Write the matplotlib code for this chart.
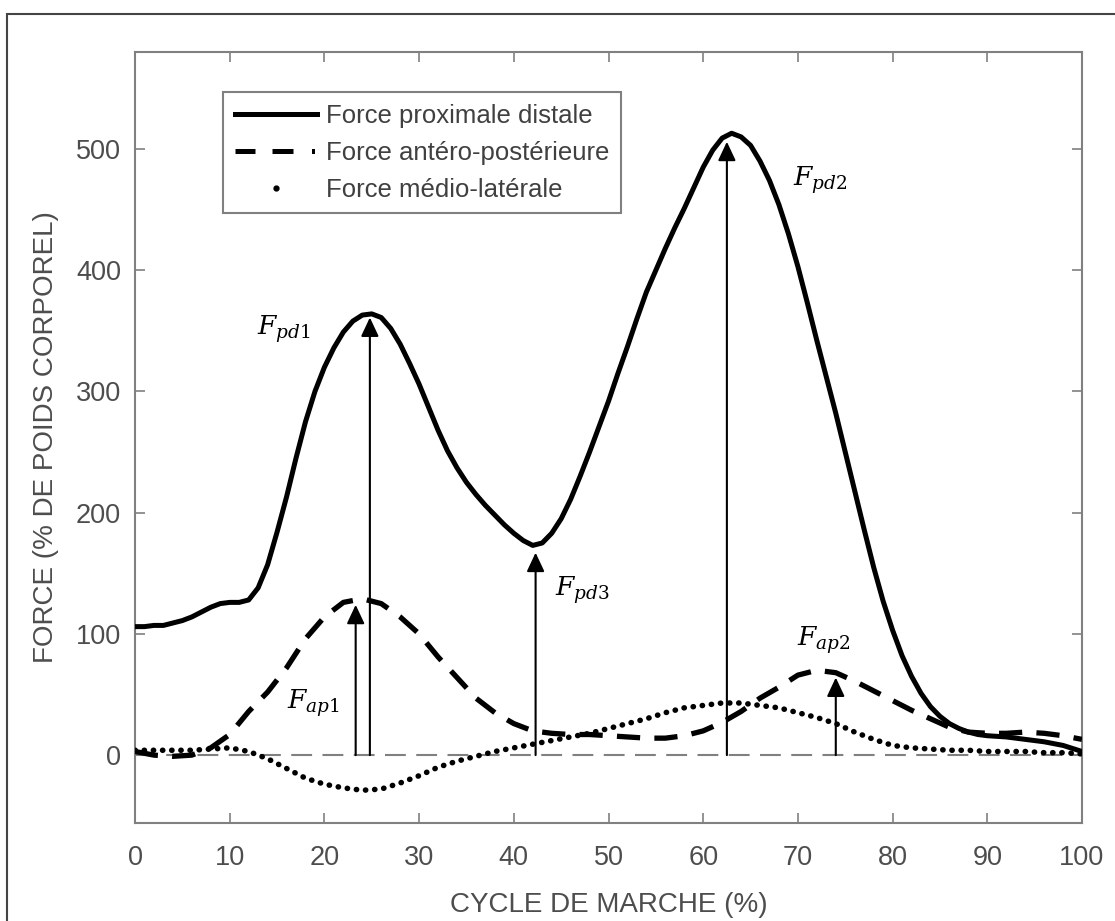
import numpy as np
import matplotlib
matplotlib.use('Agg')
import matplotlib.pyplot as plt
from matplotlib.lines import Line2D
from matplotlib.patches import Rectangle

# Data (gait cycle %, force in % body weight)
cycle_pd = list(range(0, 91)) + [92, 94, 96, 98, 100]
f_pd = [106, 106, 107, 107, 109, 111, 114, 118, 122, 125,
        126, 126, 128, 138, 157, 184, 213, 245, 275, 300,
        320, 336, 349, 358, 363, 364, 361, 352, 339, 323,
        306, 287, 268, 251, 237, 225, 215, 206, 198, 190,
        183, 177, 173, 175, 183, 195, 211, 230, 250, 271,
        292, 315, 337, 360, 382, 400, 418, 435, 451, 468,
        485, 499, 509, 513, 510, 503, 490, 474, 454, 430,
        403, 373, 342, 312, 282, 250, 218, 186, 155, 127,
        103, 82, 65, 51, 40, 32, 26, 22, 19, 17,
        16, 15, 13, 11, 8, 3]

cycle = [0, 2, 4, 6, 8, 10, 12, 14, 16, 18, 20, 22, 24, 26, 28, 30, 32, 34, 36, 38,
         40, 42, 44, 46, 48, 50, 52, 54, 56, 58, 60, 62, 64, 66, 68, 70, 72, 74, 76, 78,
         80, 82, 84, 86, 88, 90, 92, 94, 96, 98, 100]
f_ap = [3, 0, -1, 0, 6, 17, 36, 52, 72, 96, 114, 126, 129, 125, 114, 100, 81, 64, 47, 35,
        26, 20, 18, 17, 17, 16, 15, 14, 14, 16, 20, 27, 36, 47, 56, 66, 70, 68, 61, 53,
        45, 37, 30, 23, 19, 18, 18, 19, 18, 16, 13]
f_ml = [4, 4, 4, 4, 5, 6, 3, -3, -11, -19, -24, -27, -29, -28, -23, -17, -10, -5, -1, 3,
        6, 9, 12, 15, 18, 22, 26, 30, 35, 39, 41, 43, 43, 41, 39, 35, 31, 26, 19, 13,
        8, 6, 5, 4, 4, 3, 3, 3, 2, 2, 1]

labels = ['Force proximale distale', 'Force antéro-postérieure', 'Force médio-latérale']

# arrows: x position, arrow tip value
arrow_x = [23.3, 24.8, 42.3, 62.5, 74.0]
arrow_top = [124, 361, 167, 506, 64]

# annotation texts and anchor (left, centre) in data coordinates
ann_text = [r'$F_{pd1}$', r'$F_{pd2}$', r'$F_{pd3}$', r'$F_{ap1}$', r'$F_{ap2}$']
ann_x = [12.9, 69.5, 44.3, 16.0, 69.9]
ann_y = [351, 474, 136, 43, 95]

plt.rcParams['font.family'] = ['Liberation Sans', 'DejaVu Sans']
plt.rcParams['mathtext.fontset'] = 'dejavuserif'

fig = plt.figure(figsize=(11.15, 9.21), dpi=100)
ax = fig.add_axes([0.1211, 0.1064, 0.8493, 0.8371])

# outer frame of the figure (only top and left edges visible)
fig.patches.append(Rectangle((7 / 1115, -0.1), 1.2, 1.1 - 14 / 921,
                             transform=fig.transFigure, fill=False,
                             edgecolor='#444444', linewidth=1.5))

ax.axhline(0, color='#808080', lw=1.5, ls=(0, (10, 5)), zorder=1)

ax.plot(cycle_pd, f_pd, color='black', lw=3.6, solid_capstyle='round',
        solid_joinstyle='round', zorder=3)
ax.plot(cycle, f_ap, color='black', lw=3.8, ls=(0, (4.4, 2.7)), zorder=3)
ax.plot(cycle, f_ml, color='black', lw=4.0, ls=(0, (0.05, 1.6)),
        dash_capstyle='round', zorder=3)

for xa, ya in zip(arrow_x, arrow_top):
    ax.annotate('', xy=(xa, ya), xytext=(xa, 0),
                arrowprops=dict(arrowstyle='-|>,head_length=1.15,head_width=0.54',
                                mutation_scale=10, color='black', lw=1.5,
                                shrinkA=0, shrinkB=0), zorder=4)

for t, xt, yt in zip(ann_text, ann_x, ann_y):
    ax.text(xt, yt, t, fontsize=19, ha='left', va='center', color='black')

ax.set_xlim(0, 100)
ax.set_ylim(-56, 580)
ax.set_xticks(np.arange(0, 101, 10))
ax.set_yticks(np.arange(0, 501, 100))

for sp in ax.spines.values():
    sp.set_color('#808080')
    sp.set_linewidth(1.5)
ax.tick_params(direction='in', top=True, right=True, length=7, width=1.2,
               color='#808080', labelcolor='#4d4d4d', labelsize=19.5)
ax.tick_params(axis='x', pad=16)
ax.tick_params(axis='y', pad=10)

ax.set_xlabel('CYCLE DE MARCHE (%)', fontsize=20, color='#4d4d4d', labelpad=15)
ax.set_ylabel('FORCE (% DE POIDS CORPOREL)', fontsize=20, color='#4d4d4d', labelpad=12)

# legend proxies mimicking the original legend symbols
h_pd = Line2D([0], [0], color='black', lw=3.6)
h_ap = Line2D([0], [0], color='black', lw=3.6, dashes=(4.0, 3.4, 4.2, 3.7, 0.6, 30))
h_ml = Line2D([0], [0], color='black', ls='none', marker='o', markersize=3.5)
leg = ax.legend([h_pd, h_ap, h_ml], labels, loc='upper left',
                bbox_to_anchor=(0.093, 0.948), fontsize=18.5, fancybox=False,
                edgecolor='#808080', framealpha=1, handlelength=3.2,
                handletextpad=0.35, labelspacing=0.5, borderpad=0.46,
                borderaxespad=0, numpoints=1)
leg.get_frame().set_linewidth(1.5)
for txt in leg.get_texts():
    txt.set_color('#404040')

fig.savefig('out.png', dpi=100)
